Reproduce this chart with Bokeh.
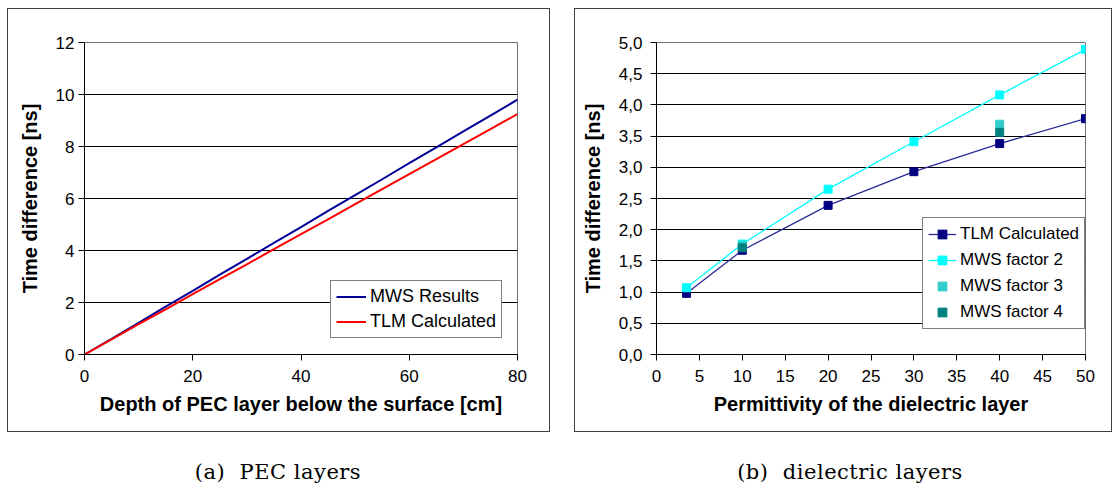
from bokeh.plotting import figure
from bokeh.layouts import row, column
from bokeh.models import Div, FixedTicker, Range1d
from bokeh.embed import file_html
from bokeh.resources import INLINE

# ---------------- data: (a) PEC layers ----------------
depth_cm = [0, 5, 10, 15, 20, 25, 30, 35, 40, 45, 50, 55, 60, 65, 70, 75, 80]
mws_results = [0.0, 0.60, 1.22, 1.84, 2.45, 3.07, 3.68, 4.29, 4.90, 5.52, 6.13,
               6.74, 7.36, 7.97, 8.58, 9.19, 9.80]
tlm_pec = [0.0, 0.58, 1.17, 1.74, 2.32, 2.90, 3.47, 4.05, 4.63, 5.20, 5.78,
           6.36, 6.94, 7.51, 8.09, 8.67, 9.25]
left_xticks = [0, 20, 40, 60, 80]
left_yticks = [0, 2, 4, 6, 8, 10, 12]

# ---------------- data: (b) dielectric layers ----------------
permittivity = [3.5, 10, 20, 30, 40, 50]
tlm_diel = [0.98, 1.67, 2.39, 2.93, 3.38, 3.78]
mws_factor2 = [1.07, 1.77, 2.65, 3.41, 4.16, 4.89]
perm_f34 = [10, 40]
mws_factor3 = [1.75, 3.69]
mws_factor4 = [1.71, 3.56]
right_xticks = [0, 5, 10, 15, 20, 25, 30, 35, 40, 45, 50]
right_yticks = [0.0, 0.5, 1.0, 1.5, 2.0, 2.5, 3.0, 3.5, 4.0, 4.5, 5.0]
right_ytick_labels = ["0,0", "0,5", "1,0", "1,5", "2,0", "2,5", "3,0", "3,5",
                      "4,0", "4,5", "5,0"]

captions = ["(a)&nbsp; PEC layers", "(b)&nbsp; dielectric layers"]

FONT = "Liberation Sans"


def style(p, xticks, yticks, xlabel, ylabel, grid_ticks):
    p.xaxis.ticker = FixedTicker(ticks=xticks)
    p.yaxis.ticker = FixedTicker(ticks=yticks)
    p.xgrid.visible = False
    p.ygrid.ticker = FixedTicker(ticks=grid_ticks)
    p.ygrid.grid_line_color = "black"
    p.ygrid.grid_line_width = 1
    p.outline_line_color = "#707070"
    p.outline_line_width = 1
    for ax in (p.xaxis[0], p.yaxis[0]):
        ax.axis_line_color = "black"
        ax.major_tick_line_color = "black"
        ax.major_tick_out = 6
        ax.major_tick_in = 0
        ax.minor_tick_line_color = None
        ax.major_label_text_font = FONT
        ax.major_label_text_font_size = "17px"
        ax.major_label_text_color = "black"
        ax.axis_label_text_font = FONT
        ax.axis_label_text_font_size = "20px"
        ax.axis_label_text_font_style = "bold"
        ax.axis_label_text_color = "black"
    p.xaxis.axis_label = xlabel
    p.yaxis.axis_label = ylabel
    p.xaxis.major_label_standoff = 9
    p.xaxis.axis_label_standoff = 8
    p.yaxis.major_label_standoff = 4
    p.yaxis.axis_label_standoff = 12


def style_legend(p, loc, gh, spacing, fs, gw):
    lg = p.legend[0]
    lg.location = loc
    lg.label_text_font = FONT
    lg.label_text_font_size = fs
    lg.label_text_color = "black"
    lg.border_line_color = "black"
    lg.border_line_width = 1
    lg.background_fill_color = "white"
    lg.background_fill_alpha = 1
    lg.glyph_width = gw
    lg.glyph_height = gh
    lg.label_height = gh
    lg.label_standoff = 4
    lg.spacing = spacing
    lg.padding = 5
    lg.margin = 0


# ---------------- (a) ----------------
p1 = figure(width=541, height=422, output_backend="svg", toolbar_location=None,
            x_range=Range1d(0, 80), y_range=Range1d(0, 12),
            min_border_left=76, min_border_right=32, min_border_top=26,
            min_border_bottom=75, background_fill_color="white",
            border_fill_color="white", margin=(9, 0, 0, 8),
            styles={"outline": "1px solid #404040"})
p1.line(depth_cm, mws_results, line_color="#000099", line_width=2,
        legend_label="MWS Results")
p1.line(depth_cm, tlm_pec, line_color="#FF0000", line_width=2,
        legend_label="TLM Calculated")
style(p1, left_xticks, left_yticks, "Depth of PEC layer below the surface [cm]",
      "Time difference [ns]", [2, 4, 6, 8, 10])
style_legend(p1, (246, 16), 21, 4, "18px", 30)

# ---------------- (b) ----------------
p2 = figure(width=536, height=422, output_backend="svg", toolbar_location=None,
            x_range=Range1d(0, 50), y_range=Range1d(0, 5),
            min_border_left=81, min_border_right=26, min_border_top=33,
            min_border_bottom=77, background_fill_color="white",
            border_fill_color="white", margin=(9, 0, 0, 26),
            styles={"outline": "1px solid #404040"})
p2.line(permittivity, tlm_diel, line_color="#2a2a99", line_width=1.3,
        legend_label="TLM Calculated")
p2.scatter(permittivity, tlm_diel, marker="square", size=8, fill_color="#000080",
           line_color="#000080", legend_label="TLM Calculated")
p2.line(permittivity, mws_factor2, line_color="#00FFFF", line_width=1.3,
        legend_label="MWS factor 2")
p2.scatter(permittivity, mws_factor2, marker="square", size=8, fill_color="#00FFFF",
           line_color="#00FFFF", legend_label="MWS factor 2")
p2.scatter(perm_f34, mws_factor3, marker="square", size=8, fill_color="#33CCCC",
           line_color="#33CCCC", legend_label="MWS factor 3")
p2.scatter(perm_f34, mws_factor4, marker="square", size=8, fill_color="#008080",
           line_color="#008080", legend_label="MWS factor 4")
style(p2, right_xticks, right_yticks, "Permittivity of the dielectric layer",
      "Time difference [ns]", right_yticks[1:])
p2.yaxis.major_label_overrides = {t: l for t, l in zip(right_yticks, right_ytick_labels)}
p2.yaxis.major_label_standoff = 8
style_legend(p2, (266, 25), 22, 4, "17px", 28)

cap_style = {"font-family": "DejaVu Serif", "font-size": "21px",
             "letter-spacing": "0.5px", "text-align": "center", "color": "black",
             "line-height": "26px", "white-space": "nowrap"}
d1 = Div(text=captions[0], width=556, height=28, margin=(28, 0, 0, 0),
         styles=cap_style)
d2 = Div(text=captions[1], width=524, height=28, margin=(28, 0, 0, 32),
         styles=cap_style)

layout = column(row(p1, p2), row(d1, d2))
open("out.html", "w").write(file_html(layout, INLINE))
